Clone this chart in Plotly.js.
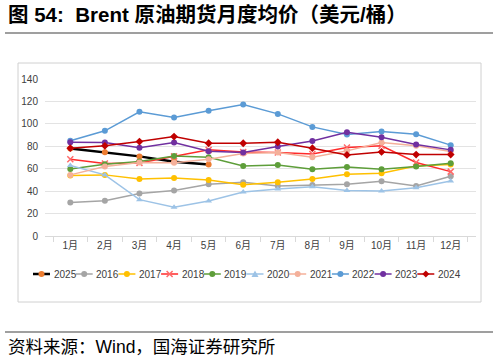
<!DOCTYPE html>
<html>
<head>
<meta charset="utf-8">
<script src="https://cdn.plot.ly/plotly-3.0.1.min.js"></script>
<style>
html,body{margin:0;padding:0;background:#fff;}
#chart{width:498px;height:360px;}
</style>
</head>
<body>
<div id="chart"></div>
<script>
const months = ["1月","2月","3月","4月","5月","6月","7月","8月","9月","10月","11月","12月"];
const y2025 = [78.0, 74.6, 71.0, 66.2, 63.8];
const y2016 = [29.8, 31.5, 37.8, 40.5, 46.1, 47.9, 44.6, 45.5, 46.1, 48.8, 44.6, 53.3];
const y2017 = [53.9, 54.5, 50.9, 51.8, 50.0, 45.8, 47.9, 50.9, 55.1, 56.0, 62.5, 63.7];
const y2018 = [68.5, 64.6, 65.2, 71.0, 76.8, 74.8, 74.4, 73.2, 78.9, 80.4, 65.5, 57.4];
const y2019 = [59.8, 64.0, 66.4, 71.4, 70.2, 62.5, 63.4, 59.5, 61.6, 59.5, 61.9, 64.9];
const y2020 = [62.8, 54.5, 32.4, 25.6, 31.3, 39.3, 42.0, 44.0, 40.5, 40.2, 43.1, 49.1];
const y2021 = [54.5, 61.9, 65.5, 65.3, 68.5, 73.5, 74.4, 70.2, 75.9, 83.3, 80.4, 75.3];
const y2022 = [85.0, 93.8, 110.7, 105.6, 111.6, 117.2, 108.9, 97.3, 90.5, 93.1, 90.8, 81.0];
const y2023 = [83.7, 83.3, 78.6, 83.3, 75.6, 74.4, 79.8, 84.8, 92.6, 88.1, 81.5, 76.8];
const y2024 = [78.3, 80.4, 84.2, 88.7, 82.7, 82.7, 83.6, 78.3, 72.3, 75.0, 72.6, 72.6];

const seriesNames = ["2025","2016","2017","2018","2019","2020","2021","2022","2023","2024"];
const seriesData = [y2025,y2016,y2017,y2018,y2019,y2020,y2021,y2022,y2023,y2024];
const lineColors = ["#000000","#A5A5A5","#FFC000","#FF2A2A","#5E9E3A","#9DC3E6","#F4B09A","#5B9BD5","#7030A0","#C00000"];
const markerColors = ["#ED7D31","#A5A5A5","#FFC000","#FF6A6A","#5E9E3A","#9DC3E6","#F4B09A","#5B9BD5","#7030A0","#C00000"];
const markerSymbols = ["circle","circle","circle","x-thin-open","circle","triangle-up","circle","circle","circle","diamond"];
const lineWidths = [2.5,1.5,1.5,1.5,1.5,1.5,1.5,1.5,1.5,1.5];

const font = "Liberation Sans, Arial, Noto Sans CJK SC, sans-serif";
const traces = seriesNames.map((n,i)=>({
  type:"scatter", mode:"lines+markers", name:n, showlegend:false,
  x: months.slice(0, seriesData[i].length), y: seriesData[i],
  line:{color:lineColors[i], width:lineWidths[i]},
  marker:{color:markerColors[i], size:6, symbol:markerSymbols[i],
          line:{color:markerColors[i], width: markerSymbols[i]==="x-thin-open"?1.5:0}}
}));

// plot area in pixels: x 45..476, y 79..236
const PL=45, PW=431, PB=236, PH=157;
const px = v => (v-PL)/PW;
const py = v => (PB-v)/PH;

const shapes = [
  {type:"line", xref:"paper", yref:"paper", x0:px(5), x1:px(493), y0:py(33), y1:py(33),
   line:{color:"#7f7f7f", width:1.5}},
  {type:"line", xref:"paper", yref:"paper", x0:px(5), x1:px(493), y0:py(332), y1:py(332),
   line:{color:"#7f7f7f", width:1.5}},
  {type:"rect", xref:"paper", yref:"paper", x0:px(18), x1:px(481), y0:py(302), y1:py(63),
   line:{color:"#d0d0d0", width:1}}
];
const annotations = [
  {text:"<b>图 54:  Brent 原油期货月度均价（美元/桶）</b>", xref:"paper", yref:"paper",
   x:px(6), y:py(14), xanchor:"left", yanchor:"middle", showarrow:false,
   font:{family:"Liberation Sans, Arial, Noto Sans CJK SC", size:20.5, color:"#000"}},
  {text:"资料来源：Wind，国海证券研究所", xref:"paper", yref:"paper",
   x:px(6), y:py(347), xanchor:"left", yanchor:"middle", showarrow:false,
   font:{family:"Liberation Sans, Arial, Noto Sans CJK SC", size:17.5, color:"#000"}}
];

// legend drawn manually (compact Excel-style)
const LY = 274;
seriesNames.forEach((n,i)=>{
  const x0 = 33 + 42.7*i, x1 = x0 + 17, cx = (x0+x1)/2;
  shapes.push({type:"line", xref:"paper", yref:"paper", x0:px(x0), x1:px(x1), y0:py(LY), y1:py(LY),
               line:{color:lineColors[i], width:lineWidths[i]}});
  const c = markerColors[i], s = markerSymbols[i], r = 3;
  if (s==="circle") {
    shapes.push({type:"circle", xref:"paper", yref:"paper", x0:px(cx-r), x1:px(cx+r), y0:py(LY+r), y1:py(LY-r),
                 fillcolor:c, line:{color:c, width:0}});
  } else if (s==="triangle-up") {
    shapes.push({type:"path", xref:"paper", yref:"paper",
                 path:`M${px(cx-3.5)},${py(LY+3)} L${px(cx+3.5)},${py(LY+3)} L${px(cx)},${py(LY-3.5)} Z`,
                 fillcolor:c, line:{color:c, width:0}});
  } else if (s==="diamond") {
    shapes.push({type:"path", xref:"paper", yref:"paper",
                 path:`M${px(cx-3.5)},${py(LY)} L${px(cx)},${py(LY-3.5)} L${px(cx+3.5)},${py(LY)} L${px(cx)},${py(LY+3.5)} Z`,
                 fillcolor:c, line:{color:c, width:0}});
  } else {
    shapes.push({type:"path", xref:"paper", yref:"paper",
                 path:`M${px(cx-3)},${py(LY-3)} L${px(cx+3)},${py(LY+3)} M${px(cx-3)},${py(LY+3)} L${px(cx+3)},${py(LY-3)}`,
                 line:{color:c, width:1.5}});
  }
  annotations.push({text:n, xref:"paper", yref:"paper", x:px(x1+1.5), y:py(LY), xanchor:"left", yanchor:"middle",
                    showarrow:false, font:{size:10, color:"#404040"}});
});

const layout = {
  width:498, height:360,
  margin:{l:45, r:22, t:79, b:124},
  paper_bgcolor:"#fff", plot_bgcolor:"#fff",
  font:{family:font, size:10, color:"#595959"},
  showlegend:false,
  xaxis:{type:"category", showgrid:false, showline:true, linecolor:"#d9d9d9", linewidth:1,
         ticks:"outside", ticklen:5, tickcolor:"#d9d9d9", tickson:"boundaries",
         tickfont:{size:10, color:"#404040"}, fixedrange:true, zeroline:false},
  yaxis:{range:[0,140], dtick:20, showgrid:true, gridcolor:"#e3e3e3", gridwidth:1,
         showline:false, zeroline:false, ticks:"", tickfont:{size:10, color:"#404040"},
         ticklabelstandoff:6},
  shapes: shapes,
  annotations: annotations
};
Plotly.newPlot("chart", traces, layout, {displayModeBar:false, staticPlot:true});
</script>
</body>
</html>
